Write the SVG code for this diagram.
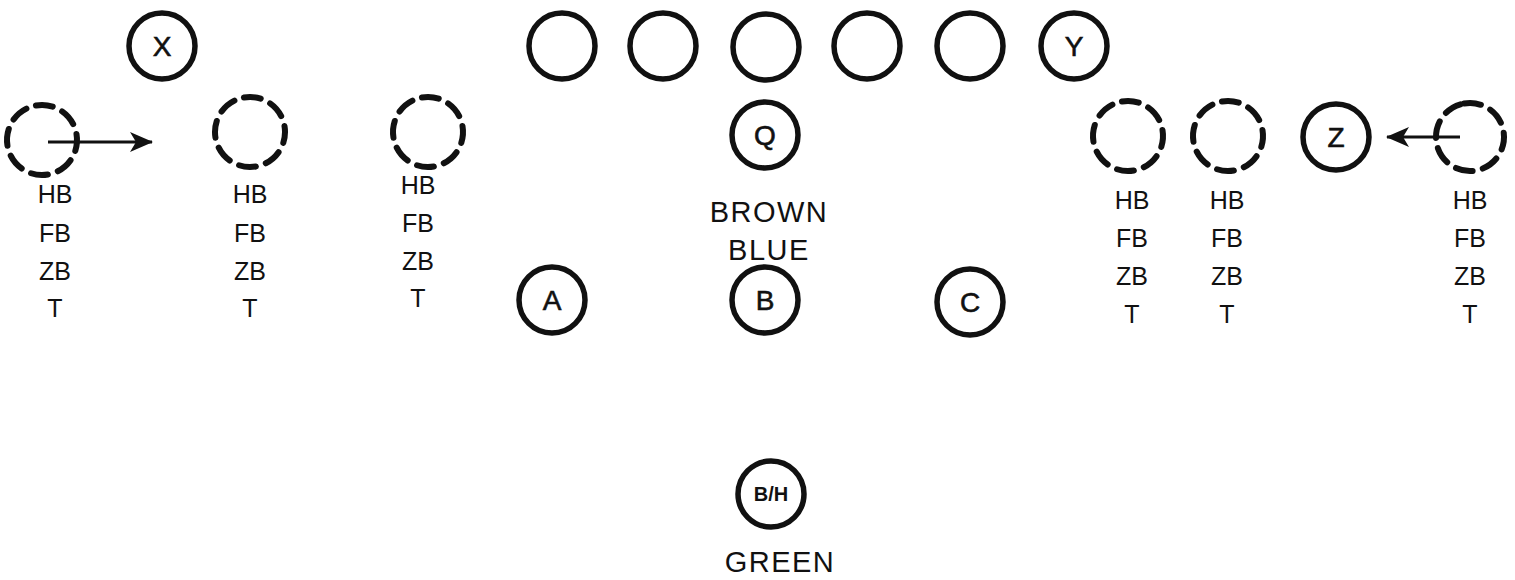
<svg xmlns="http://www.w3.org/2000/svg" width="1515" height="580" viewBox="0 0 1515 580">
<style>
.p{fill:none;stroke:#111;stroke-width:5.5}
.d{fill:none;stroke:#111;stroke-width:6;stroke-dasharray:17 10.5;stroke-linecap:round}
.l{font-family:"Liberation Sans",Arial,sans-serif;font-size:28px;fill:#111;stroke:#111;stroke-width:0.6;text-anchor:middle}
.t{font-family:"Liberation Sans",Arial,sans-serif;font-size:25px;fill:#111;text-anchor:middle}
.b{font-family:"Liberation Sans",Arial,sans-serif;font-size:29px;letter-spacing:1.5px;fill:#111;text-anchor:middle}
.c{stroke:#111;stroke-width:3;fill:none}
</style>
<defs>
<marker id="ah" viewBox="0 0 23 20" refX="22" refY="10" markerWidth="23" markerHeight="20" markerUnits="userSpaceOnUse" orient="auto">
<path d="M0,0 L23,10 L0,20 L6,10 Z" fill="#111"/>
</marker>
</defs>
<g id="X"><circle class="p" cx="162" cy="46" r="33"/><text class="l" x="162" y="56">X</text></g>
<g id="L1"><circle class="p" cx="562" cy="46" r="33"/></g>
<g id="L2"><circle class="p" cx="663" cy="46" r="33"/></g>
<g id="L3"><circle class="p" cx="766" cy="47" r="33"/></g>
<g id="L4"><circle class="p" cx="867" cy="46" r="33"/></g>
<g id="L5"><circle class="p" cx="970" cy="46" r="33"/></g>
<g id="Y"><circle class="p" cx="1074" cy="46" r="33"/><text class="l" x="1074" y="56">Y</text></g>
<g id="Q"><circle class="p" cx="765" cy="135" r="33"/><text class="l" x="765" y="145">Q</text></g>
<g id="labels-center"><text class="b" x="769" y="222">BROWN</text><text class="b" x="769" y="260">BLUE</text></g>
<g id="A"><circle class="p" cx="552" cy="300" r="33"/><text class="l" x="552" y="310">A</text></g>
<g id="B"><circle class="p" cx="765" cy="300" r="33"/><text class="l" x="765" y="310">B</text></g>
<g id="C"><circle class="p" cx="970" cy="302" r="33"/><text class="l" x="970" y="312">C</text></g>
<g id="BH"><circle class="p" cx="771" cy="494" r="33"/><text class="t" x="771" y="501" style="font-size:20px;font-weight:bold">B/H</text><text class="b" x="780" y="572">GREEN</text></g>
<g id="D1"><circle class="d" cx="42" cy="140" r="35" transform="rotate(-100 42 140)"/>
<text class="t" x="55" y="203">HB</text><text class="t" x="55" y="242">FB</text><text class="t" x="55" y="280">ZB</text><text class="t" x="55" y="317">T</text></g>
<g id="D2"><circle class="d" cx="250" cy="132" r="35" transform="rotate(-100 250 132)"/>
<text class="t" x="250" y="203">HB</text><text class="t" x="250" y="242">FB</text><text class="t" x="250" y="280">ZB</text><text class="t" x="250" y="317">T</text></g>
<g id="D3"><circle class="d" cx="428" cy="132" r="35" transform="rotate(-100 428 132)"/>
<text class="t" x="418" y="194">HB</text><text class="t" x="418" y="232">FB</text><text class="t" x="418" y="270">ZB</text><text class="t" x="418" y="307">T</text></g>
<g id="D4"><circle class="d" cx="1128" cy="136" r="35" transform="rotate(-100 1128 136)"/>
<text class="t" x="1132" y="209">HB</text><text class="t" x="1132" y="247">FB</text><text class="t" x="1132" y="285">ZB</text><text class="t" x="1132" y="323">T</text></g>
<g id="D5"><circle class="d" cx="1228" cy="136" r="35" transform="rotate(-100 1228 136)"/>
<text class="t" x="1227" y="209">HB</text><text class="t" x="1227" y="247">FB</text><text class="t" x="1227" y="285">ZB</text><text class="t" x="1227" y="323">T</text></g>
<g id="Z"><circle class="p" cx="1336" cy="137" r="33"/><text class="l" x="1336" y="147">Z</text></g>
<g id="D6"><circle class="d" cx="1470" cy="137" r="34" transform="rotate(-100 1470 137)"/>
<text class="t" x="1470" y="209">HB</text><text class="t" x="1470" y="247">FB</text><text class="t" x="1470" y="285">ZB</text><text class="t" x="1470" y="323">T</text></g>
<g id="connectors">
<line class="c" x1="48" y1="142" x2="152" y2="142" marker-end="url(#ah)"/>
<line class="c" x1="1460" y1="137" x2="1387" y2="137" marker-end="url(#ah)"/>
</g>
</svg>
